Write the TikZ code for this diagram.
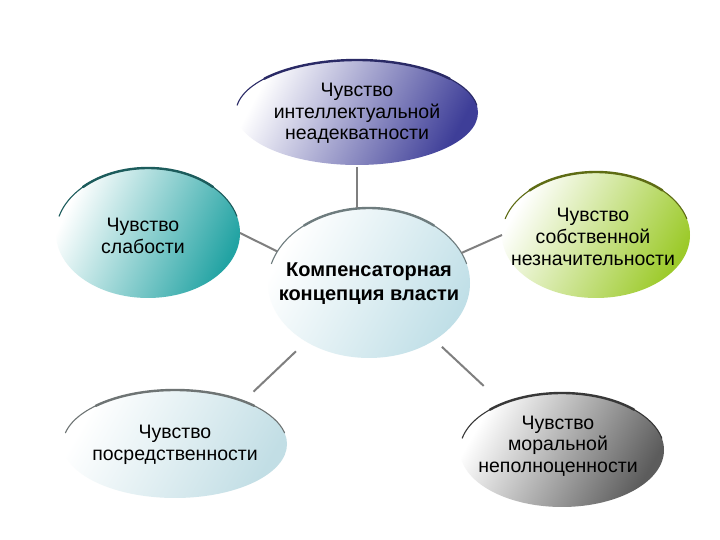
\documentclass[tikz,border=0pt]{standalone}
\usepackage{fontspec}
\setmainfont{Liberation Sans}
\usetikzlibrary{shapes.geometric}
\definecolor{topc}{HTML}{3E3E98}
\definecolor{toprim}{HTML}{2A2A66}
\definecolor{leftc}{HTML}{22A3A3}
\definecolor{leftrim}{HTML}{1C5C5C}
\definecolor{rightc}{HTML}{9CCA2A}
\definecolor{rightrim}{HTML}{5E6C14}
\definecolor{centc}{HTML}{C0DFE7}
\definecolor{centrim}{HTML}{6E7C7E}
\definecolor{blc}{HTML}{C2DEE5}
\definecolor{blrim}{HTML}{6E7474}
\definecolor{brc}{HTML}{5C5C5C}
\definecolor{brrim}{HTML}{383838}
\definecolor{connc}{HTML}{7F7F7F}
\tikzset{
  bubble/.style={ellipse, inner sep=0pt, outer sep=0pt},
  lbl/.style={align=center, text=black, inner sep=0pt,
    font=\fontsize{19.5}{21.7}\selectfont},
  clbl/.style={align=center, text=black, inner sep=0pt,
    font=\fontsize{20}{24}\selectfont\bfseries},
  conn/.style={draw=connc, line width=2pt},
  rimthick/.style={line width=2.4pt, line cap=round},
  rimthin/.style={line width=1.1pt, line cap=round},
}
\begin{document}
\begin{tikzpicture}[x=1pt,y=1pt]
\useasboundingbox[fill=white] (0,0) rectangle (720,540);

% top
\node[bubble, minimum width=242pt, minimum height=105pt,
  top color=white, bottom color=topc, shading angle=62,
  label={[lbl, yshift=-1pt]center:Чувство\\интеллектуальной\\неадекватности}]
  (top) at (357,427.5) {};
\draw[rimthin, toprim] ([shift={(172:121pt and 52.5pt)}]top.center)
  arc[start angle=172, end angle=8, x radius=121pt, y radius=52.5pt];
\draw[rimthick, toprim] ([shift={(140:121pt and 52.5pt)}]top.center)
  arc[start angle=140, end angle=40, x radius=121pt, y radius=52.5pt];

% left
\node[bubble, minimum width=184pt, minimum height=130pt,
  top color=white, bottom color=leftc, shading angle=65,
  label={[lbl, xshift=-5pt, yshift=-3pt]center:Чувство\\слабости}]
  (left) at (148,307) {};
\draw[rimthin, leftrim] ([shift={(165:92pt and 65pt)}]left.center)
  arc[start angle=165, end angle=15, x radius=92pt, y radius=65pt];
\draw[rimthick, leftrim] ([shift={(135:92pt and 65pt)}]left.center)
  arc[start angle=135, end angle=45, x radius=92pt, y radius=65pt];

% right
\node[bubble, minimum width=188pt, minimum height=126pt,
  top color=white, bottom color=rightc, shading angle=60,
  label={[lbl, xshift=-3pt, yshift=-2pt]center:Чувство\\собственной\\незначительности}]
  (right) at (596,305) {};
\draw[rimthin, rightrim] ([shift={(165:94pt and 63pt)}]right.center)
  arc[start angle=165, end angle=15, x radius=94pt, y radius=63pt];
\draw[rimthick, rightrim] ([shift={(135:94pt and 63pt)}]right.center)
  arc[start angle=135, end angle=45, x radius=94pt, y radius=63pt];

% center
\node[bubble, minimum width=202pt, minimum height=150pt,
  top color=white, bottom color=centc, shading angle=60,
  label={[clbl, yshift=-1pt]center:Компенсаторная\\концепция власти}]
  (center) at (369,257) {};
\draw[rimthin, centrim] ([shift={(165:101pt and 75pt)}]center.center)
  arc[start angle=165, end angle=15, x radius=101pt, y radius=75pt];
\draw[rimthick, centrim] ([shift={(130:101pt and 75pt)}]center.center)
  arc[start angle=130, end angle=50, x radius=101pt, y radius=75pt];

% bottom left
\node[bubble, minimum width=224pt, minimum height=108pt,
  top color=white, bottom color=blc, shading angle=60,
  label={[lbl, yshift=-1pt]center:Чувство\\посредственности}]
  (bl) at (175,96) {};
\draw[rimthin, blrim] ([shift={(168:112pt and 54pt)}]bl.center)
  arc[start angle=168, end angle=12, x radius=112pt, y radius=54pt];
\draw[rimthick, blrim] ([shift={(135:112pt and 54pt)}]bl.center)
  arc[start angle=135, end angle=45, x radius=112pt, y radius=54pt];

% bottom right
\node[bubble, minimum width=204pt, minimum height=114pt,
  top color=white, bottom color=brc, shading angle=60,
  label={[lbl, xshift=-4pt, yshift=4pt]center:Чувство\\моральной\\неполноценности}]
  (br) at (562,90) {};
\draw[rimthin, brrim] ([shift={(168:102pt and 57pt)}]br.center)
  arc[start angle=168, end angle=12, x radius=102pt, y radius=57pt];
\draw[rimthick, brrim] ([shift={(135:102pt and 57pt)}]br.center)
  arc[start angle=135, end angle=45, x radius=102pt, y radius=57pt];

% connectors
\draw[conn, shorten <=2pt] (top.south) -- (top.south |- center.north);
\draw[conn] (left.east) -- (center.161);
\draw[conn] (right.west) -- (center.18);
\draw[conn, shorten <=14pt, shorten >=14pt] (center.223) -- (bl.32);
\draw[conn, shorten <=10pt, shorten >=26pt] (center.-41) -- (br.142);
\end{tikzpicture}
\end{document}
